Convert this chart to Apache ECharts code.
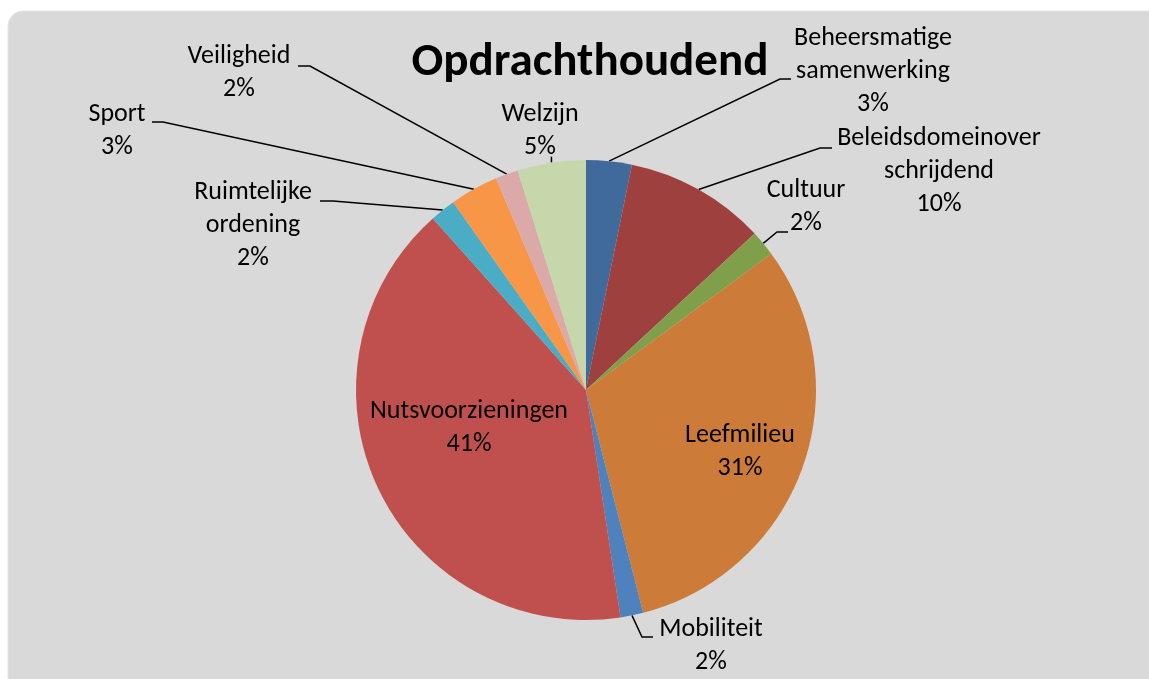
<!DOCTYPE html>
<html lang="nl">
<head>
    <meta charset="UTF-8">
    <title>Opdrachthoudend</title>
    <script src="https://cdn.jsdelivr.net/npm/echarts/dist/echarts.min.js"></script>
    <style>
        html, body { margin: 0; padding: 0; background: #ffffff; }
        #chart-container { width: 1149px; height: 679px; }
    </style>
</head>
<body>
    <div id="chart-container"></div>

    <script>
        // Gegevens (aandeel in %)
        var categories = [
            'Beheersmatige\nsamenwerking',
            'Beleidsdomeinover\nschrijdend',
            'Cultuur',
            'Leefmilieu',
            'Mobiliteit',
            'Nutsvoorzieningen',
            'Ruimtelijke\nordening',
            'Sport',
            'Veiligheid',
            'Welzijn'
        ];
        var values = [3.2, 9.9, 1.8, 31.1, 1.6, 40.8, 1.8, 3.4, 1.6, 4.8];

        var colors = ['#406a9c', '#9e413e', '#7f9f4a', '#cd7b38', '#4f81bd',
                      '#c0504d', '#4bacc6', '#f79646', '#dba9a8', '#c6d7ab'];

        // Plaats van de labels (midden van het tekstblok) en de knik van de verbindingslijn
        var labelSpots = [
            [873, 71], [939, 171], [806, 207], [740, 452], [711, 646],
            [469, 428], [253, 225], [117, 131], [239, 73], [540, 131]
        ];
        var leaderBends = [
            [780, 79, 791, 79], [820, 148, 832, 148], [777, 232, 788, 232], null, [642, 637, 653, 637],
            null, [333, 201, 320, 201], [163, 122, 152, 122], [310, 66, 298, 66], 'tick'
        ];

        var font = 'Carlito, Lato, sans-serif';
        var myChart = echarts.init(document.getElementById('chart-container'));

        var option = {
            animation: false,
            graphic: [{
                type: 'rect',
                z: -10,
                shape: { x: 8, y: 11, width: 1170, height: 700, r: 15 },
                style: { fill: '#d9d9d9', stroke: '#e4e4e4', lineWidth: 1 }
            }],
            title: {
                text: 'Opdrachthoudend',
                left: 585,
                top: 35,
                textAlign: 'center',
                textStyle: { fontFamily: font, fontSize: 47, fontWeight: 'bold', color: '#000' }
            },
            series: [{
                type: 'pie',
                center: [586, 390],
                radius: 230,
                startAngle: 90,
                clockwise: true,
                avoidLabelOverlap: false,
                itemStyle: { borderWidth: 0 },
                label: {
                    show: true,
                    position: 'outside',
                    color: '#000',
                    fontFamily: font,
                    fontSize: 26,
                    lineHeight: 33,
                    align: 'center',
                    formatter: function (p) {
                        return p.name + '\n' + Math.round(p.percent) + '%';
                    }
                },
                labelLine: {
                    show: true,
                    length: 10,
                    length2: 10,
                    lineStyle: { color: '#000', width: 1.5 }
                },
                labelLayout: function (params) {
                    var i = params.dataIndex;
                    var spot = labelSpots[i];
                    var res = { x: spot[0], y: spot[1], align: 'center', verticalAlign: 'middle' };
                    var bend = leaderBends[i];
                    var pts = params.labelLinePoints;
                    if (pts && pts.length) {
                        var p0 = pts[0];
                        if (bend === 'tick') {
                            res.labelLinePoints = [p0, [p0[0], p0[1] - 6], [p0[0], p0[1] - 6]];
                        } else if (bend) {
                            res.labelLinePoints = [p0, [bend[0], bend[1]], [bend[2], bend[3]]];
                        }
                    }
                    return res;
                },
                data: categories.map(function (name, i) {
                    var item = { name: name, value: values[i], itemStyle: { color: colors[i] } };
                    if (!leaderBends[i]) {
                        item.labelLine = { show: false };
                    }
                    return item;
                })
            }]
        };

        myChart.setOption(option);
    </script>
</body>
</html>
